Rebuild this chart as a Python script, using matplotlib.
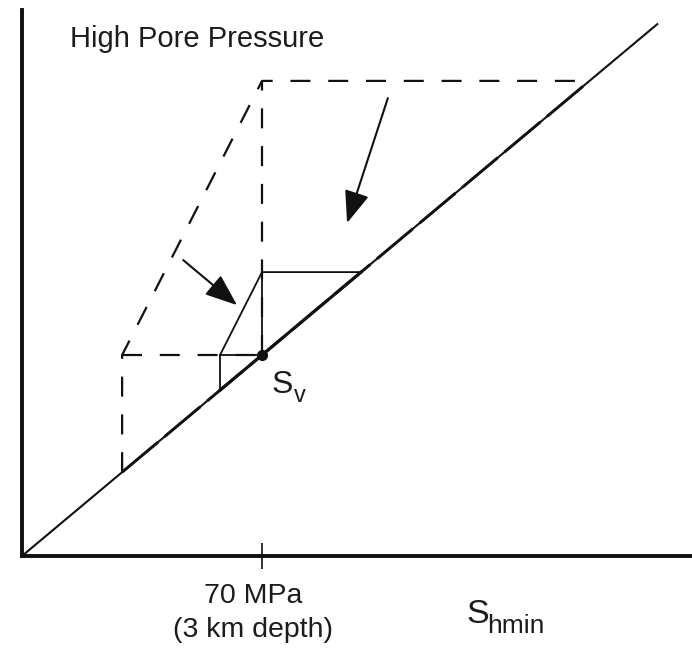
import matplotlib
matplotlib.use("Agg")
import matplotlib.pyplot as plt

plt.rcParams['font.family'] = ['Liberation Sans', 'DejaVu Sans']

# ---- data (MPa) ----
sv = 70.0                      # vertical stress at 3 km depth
diag_end = 185.5               # extent of the Shmax = Shmin line
hp_shmin_low = 29.2            # high pore pressure polygon: lowest Shmin
hp_shmax_top = 165.5           # high pore pressure polygon: highest Shmax
lp_shmin_low = 57.75           # small (solid) polygon: lowest Shmin
lp_shmax_top = 98.9            # small (solid) polygon: highest Shmax
arrow1_from = (106.7, 159.5)
arrow1_to = (94.8, 116.0)
arrow2_from = (47.0, 103.1)
arrow2_to = (62.7, 87.4)
xtick_vals = [70]
xlim = (0, 195.4)
ylim = (0, 190.2)

W, H = 692, 648
fig = plt.figure(figsize=(W / 100, H / 100), dpi=100)
ax = fig.add_axes([22 / W, (H - 556) / H, 670 / W, 546 / H])
ax.set_xlim(*xlim)
ax.set_ylim(*ylim)

col = '#111111'
dash = (0, (9, 8))

# diagonal Shmax = Shmin
ax.plot([0, diag_end], [0, diag_end], color=col, lw=1.5, solid_capstyle='butt')

# high pore pressure polygon (dashed)
hp_x = [hp_shmin_low, hp_shmin_low, sv, hp_shmax_top]
hp_y = [hp_shmin_low, sv, hp_shmax_top, hp_shmax_top]
ax.plot(hp_x, hp_y, color=col, lw=1.6, ls=dash)
ax.plot([hp_shmin_low, sv], [sv, sv], color=col, lw=1.6, ls=dash)
ax.plot([sv, sv], [sv, hp_shmax_top], color=col, lw=1.6, ls=dash)
ax.plot([hp_shmin_low, hp_shmax_top], [hp_shmin_low, hp_shmax_top], color=col, lw=2.1, ls=(0, (16, 3)))

# small polygon (solid)
lp_x = [lp_shmin_low, lp_shmin_low, sv, lp_shmax_top]
lp_y = [lp_shmin_low, sv, lp_shmax_top, lp_shmax_top]
ax.plot(lp_x, lp_y, color=col, lw=1.3)
ax.plot([lp_shmin_low, sv], [sv, sv], color=col, lw=1.3)
ax.plot([sv, sv], [sv, lp_shmax_top], color=col, lw=1.3)
ax.plot([lp_shmin_low, lp_shmax_top], [lp_shmin_low, lp_shmax_top], color=col, lw=2.2)

# Sv point
ax.plot([sv], [sv], 'o', color=col, ms=7)

# arrows
for a_from, a_to in [(arrow1_from, arrow1_to), (arrow2_from, arrow2_to)]:
    ax.annotate('', xy=a_to, xytext=a_from,
                arrowprops=dict(arrowstyle='-|>,head_length=0.9,head_width=0.35',
                                mutation_scale=22, lw=1.5, color=col,
                                shrinkA=0, shrinkB=0))

# spines / ticks
for s in ['top', 'right']:
    ax.spines[s].set_visible(False)
for s in ['left', 'bottom']:
    ax.spines[s].set_linewidth(2.8)
    ax.spines[s].set_color(col)
ax.set_yticks([])
ax.set_xticks(xtick_vals)
ax.set_xticklabels([''])
ax.tick_params(axis='x', direction='inout', length=19, width=1.2, color=col)

tc = '#1c1c1c'
def px_text(px, py, s, size, ha='left'):
    fig.text(px / W, 1 - py / H, s, fontsize=size, color=tc, ha=ha, va='baseline')

px_text(70, 47, 'High Pore Pressure', 21)
px_text(253, 603, '70 MPa', 20.5, ha='center')
px_text(253, 637, '(3 km depth)', 20.5, ha='center')
px_text(466, 623, 'S', 24.5)
px_text(487, 633, 'hmin', 19)
px_text(272, 393, 'S', 23)
px_text(294, 402, 'v', 17)

fig.savefig('out.png', dpi=100, facecolor='white')
